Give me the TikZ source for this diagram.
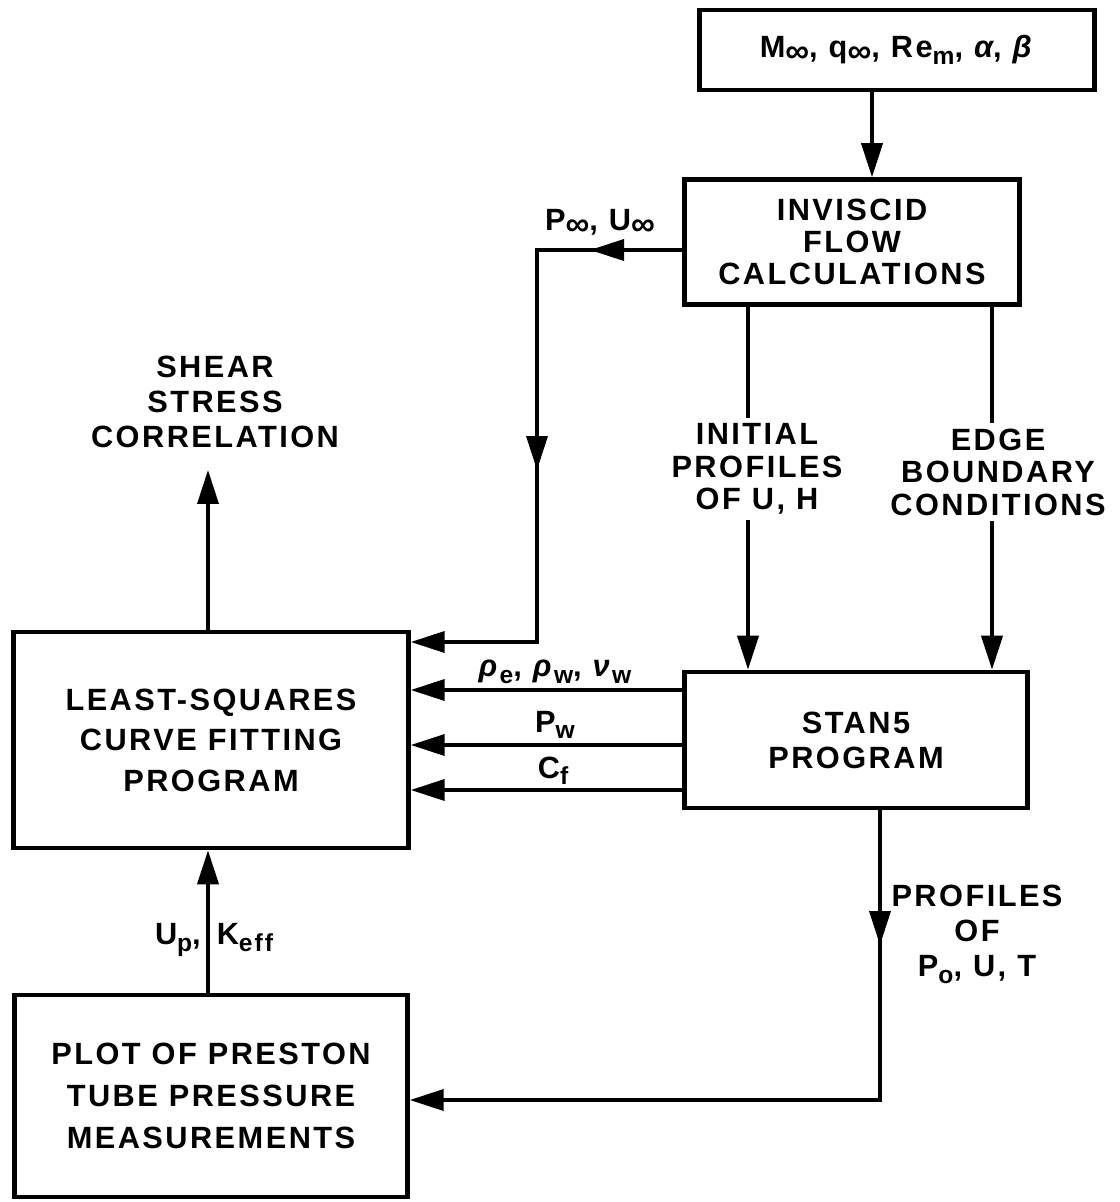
\documentclass[tikz,border=0pt]{standalone}
\usepackage{fontspec}
\setmainfont{Liberation Sans}[LetterSpace=8]
\usetikzlibrary{arrows.meta,positioning,calc}
\newcommand\boxfont{\bfseries\fontsize{17.5}{20}\selectfont}
\newcommand\lowsub[1]{\raisebox{-0.4ex}{\fontsize{14}{14}\selectfont #1}}
\newcommand\infsub{\raisebox{-0.3ex}{\fontsize{19}{19}\selectfont ∞}}
\tikzset{
  flowbox/.style={draw, line width=2.6pt, align=center, font=\boxfont, inner sep=2pt},
  flowtext/.style={align=center, font=\boxfont, inner sep=1pt},
  flowline/.style={line width=2.1pt},
  flowarrow/.style={line width=2.1pt, -{Triangle[length=6.8mm,width=4.2mm]}}
}

\begin{document}
\begin{tikzpicture}[x=0.02cm, y=-0.02cm]
\useasboundingbox (0,0) rectangle (1119,1202);
% columns and rows of the connectors
\coordinate (colA) at (872,0);
\coordinate (colB) at (537,0);
\coordinate (colC) at (748,0);
\coordinate (colD) at (992,0);
\coordinate (colE) at (880,0);
\coordinate (colF) at (208,0);
\coordinate (rowP) at (0,250);
\coordinate (rowQ) at (0,642);
\coordinate (rowA) at (0,690);
\coordinate (rowB) at (0,745);
\coordinate (rowC) at (0,790);
\coordinate (rowS) at (0,1100);
% boxes
\node[flowbox, minimum width=7.9cm, minimum height=1.6cm] (params) at (897,50) {M\infsub, q\infsub, Re\lowsub{m}, \textit{α}, \textit{β}};
\node[flowbox, minimum width=6.7cm, minimum height=2.5cm, font={\bfseries\fontsize{17.5}{18}\selectfont}] (inv) at (852,242) {INVISCID\\FLOW\\CALCULATIONS};
\node[flowbox, minimum width=6.86cm, minimum height=2.72cm] (stan) at (856,740) {STAN5\\PROGRAM};
\node[flowbox, minimum width=7.9cm, minimum height=4.32cm, font={\bfseries\fontsize{17.5}{23}\selectfont}] (lsq) at (211,740) {LEAST-SQUARES\\CURVE FITTING\\PROGRAM};
\node[flowbox, minimum width=7.86cm, minimum height=4.04cm, font={\bfseries\fontsize{17.5}{24}\selectfont}] (plot) at (211,1096) {PLOT OF PRESTON\\TUBE PRESSURE\\MEASUREMENTS};
% connectors
\draw[flowarrow] (params.south -| colA) -- (inv.north -| colA);
\draw[flowarrow] (inv.west |- rowP) -| (colB |- rowQ) -- (lsq.east |- rowQ);
\coordinate (pinfmid) at (590,250);
\coordinate (pinfdown) at (537,470);
\draw[flowarrow] (inv.west |- rowP) -- (pinfmid);
\draw[flowarrow] (colB |- rowP) -- (pinfdown);
\draw[flowarrow] (inv.south -| colC) -- (stan.north -| colC);
\draw[flowarrow] (inv.south -| colD) -- (stan.north -| colD);
\draw[flowarrow] (stan.west |- rowA) -- (lsq.east |- rowA);
\draw[flowarrow] (stan.west |- rowB) -- (lsq.east |- rowB);
\draw[flowarrow] (stan.west |- rowC) -- (lsq.east |- rowC);
\coordinate (sheartip) at (208,470);
\draw[flowarrow] (lsq.north -| colF) -- (sheartip);
\draw[flowarrow] (plot.north -| colF) -- (lsq.south -| colF);
\coordinate (stanmid) at (880,945);
\draw[flowarrow] (stan.south -| colE) |- (plot.east |- rowS);
\draw[flowarrow] (stan.south -| colE) -- (stanmid);
% labels
\node[flowtext] (pinf) at (600,222) {P\infsub, U\infsub};
\node[flowtext, fill=white, inner sep=3pt, font={\bfseries\fontsize{17.5}{18.5}\selectfont}] (initial) at (757,469) {INITIAL\\PROFILES\\OF U, H};
\node[flowtext, fill=white, inner sep=3pt, font={\bfseries\fontsize{17.5}{18.5}\selectfont}] (edge) at (998,472) {EDGE\\BOUNDARY\\CONDITIONS};
\node[flowtext, font={\bfseries\fontsize{17.5}{20}\selectfont}] (shear) at (215,402) {SHEAR\\STRESS\\CORRELATION};
\node[flowtext] (rho) at (555,672) {\textit{ρ}\lowsub{e}, \textit{ρ}\lowsub{w}, \textit{ν}\lowsub{w}};
\node[flowtext] (pw) at (555,725) {P\lowsub{w}};
\node[flowtext] (cf) at (553,771) {C\lowsub{f}};
\node[flowtext] (upk) at (214,940) {U\lowsub{p},\hspace{0.32cm}K\lowsub{eff}};
\node[flowtext, font={\bfseries\fontsize{17.5}{20}\selectfont}] (prof) at (977,934) {PROFILES\\OF\\P\lowsub{o}, U, T};
\end{tikzpicture}
\end{document}
